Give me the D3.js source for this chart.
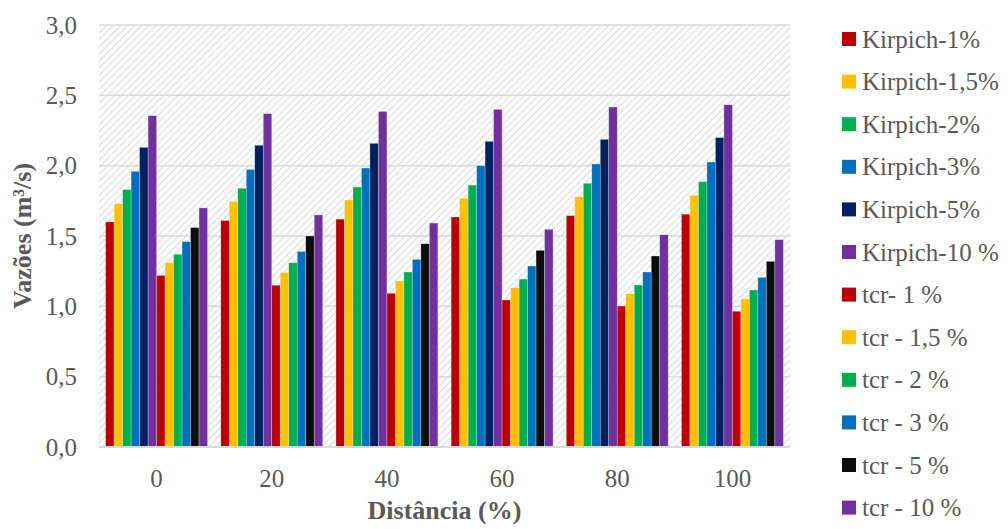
<!DOCTYPE html>
<html>
<head>
<meta charset="utf-8">
<script src="https://cdn.jsdelivr.net/npm/d3@7"></script>
<style>
  body { margin: 0; background: #fff; }
  text { font-family: "Liberation Serif", "Tinos", "Times New Roman", "DejaVu Serif", serif; fill: #595959; }
</style>
</head>
<body>
<div id="chart-area"></div>
<script>
// Data
var distances = ["0", "20", "40", "60", "80", "100"];
var seriesNames = ["Kirpich-1%", "Kirpich-1,5%", "Kirpich-2%", "Kirpich-3%", "Kirpich-5%", "Kirpich-10 %",
  "tcr- 1 %", "tcr - 1,5 %", "tcr - 2 %", "tcr - 3 %", "tcr - 5 %", "tcr - 10 %"];
var seriesColors = ["#C00000", "#FFC000", "#00B050", "#0070C0", "#002060", "#7030A0",
  "#C00000", "#FFC000", "#00B050", "#0070C0", "#0D0D0D", "#7030A0"];
var kirpich1 = [1.60, 1.61, 1.62, 1.635, 1.645, 1.655];
var kirpich15 = [1.73, 1.745, 1.756, 1.768, 1.779, 1.789];
var kirpich2 = [1.83, 1.84, 1.848, 1.862, 1.875, 1.886];
var kirpich3 = [1.96, 1.973, 1.983, 2.0, 2.012, 2.026];
var kirpich5 = [2.13, 2.145, 2.159, 2.173, 2.187, 2.20];
var kirpich10 = [2.355, 2.37, 2.386, 2.40, 2.417, 2.433];
var tcr1 = [1.22, 1.15, 1.093, 1.045, 1.002, 0.965];
var tcr15 = [1.31, 1.24, 1.18, 1.132, 1.09, 1.052];
var tcr2 = [1.37, 1.31, 1.244, 1.194, 1.152, 1.116];
var tcr3 = [1.46, 1.39, 1.334, 1.287, 1.244, 1.206];
var tcr5 = [1.56, 1.50, 1.445, 1.398, 1.358, 1.32];
var tcr10 = [1.70, 1.65, 1.592, 1.548, 1.509, 1.474];
var yTicks = [0, 0.5, 1.0, 1.5, 2.0, 2.5, 3.0];

var allSeries = [kirpich1, kirpich15, kirpich2, kirpich3, kirpich5, kirpich10,
  tcr1, tcr15, tcr2, tcr3, tcr5, tcr10];

var serif = "'Liberation Serif', 'Tinos', 'Times New Roman', 'DejaVu Serif', serif";

var margin = { left: 99, right: 218, top: 25, bottom: 82 },
  width = 1008 - margin.left - margin.right,
  height = 529 - margin.top - margin.bottom;

var svg = d3.select("#chart-area")
  .append("svg")
  .attr("width", 1008)
  .attr("height", 529);

// hatch background
var defs = svg.append("defs");
var pat = defs.append("pattern")
  .attr("id", "hatch")
  .attr("patternUnits", "userSpaceOnUse")
  .attr("width", 5)
  .attr("height", 5)
  .attr("patternTransform", "rotate(45)");
pat.append("rect").attr("width", 5).attr("height", 5).attr("fill", "#fff");
pat.append("line")
  .attr("x1", 0).attr("y1", 0).attr("x2", 0).attr("y2", 5)
  .attr("stroke", "#dadada")
  .attr("stroke-width", 2.2);

var g = svg.append("g")
  .attr("transform", "translate(" + margin.left + "," + margin.top + ")");

g.append("rect")
  .attr("width", width)
  .attr("height", height)
  .attr("fill", "url(#hatch)");

// Scales
var x0 = d3.scaleBand().domain(distances).range([0, width]).paddingInner(0.115).paddingOuter(0.0575);
var x1 = d3.scaleBand().domain(d3.range(12)).range([0, x0.bandwidth()]);
var y = d3.scaleLinear().domain([0, 3]).range([height, 0]);

// gridlines
g.selectAll(".grid")
  .data(yTicks.slice(1))
  .enter().append("line")
  .attr("class", "grid")
  .attr("x1", 0).attr("x2", width)
  .attr("y1", function(d) { return y(d); })
  .attr("y2", function(d) { return y(d); })
  .attr("stroke", "#d9d9d9")
  .attr("stroke-width", 1.5);

// bars
var groups = g.selectAll(".grp")
  .data(distances)
  .enter().append("g")
  .attr("class", "grp")
  .attr("transform", function(d) { return "translate(" + x0(d) + ",0)"; });

groups.selectAll("rect")
  .data(function(d, i) {
    return allSeries.map(function(s, k) { return { k: k, v: s[i] }; });
  })
  .enter().append("rect")
  .attr("x", function(d) { return x1(d.k); })
  .attr("width", x1.bandwidth())
  .attr("y", function(d) { return y(d.v); })
  .attr("height", function(d) { return height - y(d.v); })
  .attr("fill", function(d) { return seriesColors[d.k]; })
  .attr("stroke", "rgba(255,255,255,0.45)")
  .attr("stroke-width", 0.6);

// axis line
g.append("line")
  .attr("x1", 0).attr("x2", width)
  .attr("y1", height).attr("y2", height)
  .attr("stroke", "#d9d9d9")
  .attr("stroke-width", 2);

// Y-axis labels
var yAxisCall = d3.axisLeft(y).tickValues(yTicks).tickSize(0).tickPadding(22)
  .tickFormat(function(d) { return d3.format(".1f")(d).replace(".", ","); });
var yAxis = g.append("g").attr("class", "y axis").call(yAxisCall);
yAxis.attr("font-family", serif);
yAxis.select(".domain").remove();
yAxis.selectAll("text").attr("font-size", "25px").attr("fill", "#595959");

// X-axis labels
var xAxisCall = d3.axisBottom(x0).tickSize(0).tickPadding(22);
var xAxis = g.append("g").attr("class", "x axis")
  .attr("transform", "translate(0," + height + ")")
  .call(xAxisCall);
xAxis.attr("font-family", serif);
xAxis.select(".domain").remove();
xAxis.selectAll("text").attr("font-size", "25px").attr("fill", "#595959");

// Titles
svg.append("text")
  .attr("x", margin.left + width / 2)
  .attr("y", 519)
  .attr("text-anchor", "middle")
  .attr("font-size", "26px")
  .attr("font-weight", "bold")
  .text("Distância (%)");

svg.append("text")
  .attr("transform", "rotate(-90)")
  .attr("x", -(margin.top + height / 2))
  .attr("y", 31)
  .attr("text-anchor", "middle")
  .attr("font-size", "26px")
  .attr("font-weight", "bold")
  .text("Vazões (m³/s)");

// Legend
var legend = svg.selectAll(".legend")
  .data(seriesNames)
  .enter().append("g")
  .attr("class", "legend")
  .attr("transform", function(d, i) { return "translate(842," + (39 + i * 42.6) + ")"; });
legend.append("rect")
  .attr("x", 0).attr("y", -7)
  .attr("width", 14).attr("height", 14)
  .attr("fill", function(d, i) { return seriesColors[i]; });
legend.append("text")
  .attr("x", 20)
  .attr("y", 8.5)
  .attr("font-size", "25px")
  .text(function(d) { return d; });
</script>
</body>
</html>
